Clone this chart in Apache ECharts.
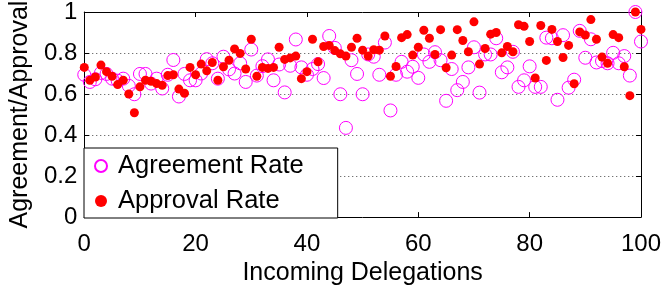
<!DOCTYPE html>
<html>
<head>
<meta charset="utf-8">
<script src="https://cdn.jsdelivr.net/npm/echarts@6/dist/echarts.min.js"></script>
<style>
html,body{margin:0;padding:0;background:#fff;}
#chart{width:664px;height:291px;}
</style>
</head>
<body>
<div id="chart"></div>
<script>
// Incoming delegations (x) 0..100
var delegations = [];
for (var i = 0; i <= 100; i++) delegations.push(i);

var agreementRate = [
0.694,0.659,0.672,0.703,0.698,0.675,0.665,0.675,0.640,0.599,
0.698,0.698,0.651,0.675,0.627,0.694,0.766,0.588,0.698,0.667,
0.667,0.700,0.770,0.750,0.675,0.782,0.720,0.700,0.750,0.659,
0.817,0.690,0.736,0.769,0.667,0.744,0.608,0.738,0.866,0.730,
0.694,0.722,0.746,0.678,0.883,0.825,0.599,0.435,0.765,0.698,
0.599,0.793,0.782,0.694,0.851,0.520,0.694,0.757,0.709,0.733,
0.679,0.793,0.757,0.804,0.765,0.567,0.722,0.619,0.659,0.730,
0.828,0.607,0.793,0.793,0.872,0.706,0.730,0.806,0.635,0.667,
0.735,0.635,0.635,0.875,0.872,0.572,0.887,0.631,0.670,0.908,
0.777,0.867,0.754,0.761,0.750,0.801,0.750,0.785,0.690,1.000,
0.856
];

var approvalRate = [
0.730,0.667,0.683,0.741,0.709,0.687,0.646,0.667,0.600,0.509,
0.635,0.667,0.662,0.651,0.643,0.690,0.694,0.624,0.604,0.730,
0.694,0.746,0.713,0.754,0.667,0.733,0.765,0.820,0.798,0.722,
0.867,0.687,0.730,0.725,0.730,0.828,0.769,0.776,0.785,0.675,
0.709,0.867,0.757,0.832,0.837,0.812,0.796,0.785,0.828,0.872,
0.814,0.785,0.816,0.814,0.883,0.687,0.734,0.875,0.890,0.790,
0.828,0.911,0.872,0.793,0.914,0.728,0.790,0.914,0.861,0.806,
0.952,0.746,0.822,0.892,0.900,0.801,0.832,0.806,0.938,0.930,
0.856,0.678,0.934,0.764,0.915,0.856,0.778,0.837,0.650,0.903,
0.888,0.963,0.867,0.780,0.750,0.890,0.875,0.733,0.592,1.000,
0.915
];

var seriesNames = ['Agreement Rate', 'Approval Rate'];
var xName = 'Incoming Delegations';
var yName = 'Agreement/Approval';

function pairs(xs, ys) { return xs.map(function (x, k) { return [x, ys[k]]; }); }

var FONT = '"Liberation Sans", Arial, Helvetica, sans-serif';
var chart = echarts.init(document.getElementById('chart'), null, {renderer: 'canvas'});

var tickStyle = {show: true, inside: true, length: 5, lineStyle: {color: '#000', width: 1}};
var option = {
  animation: false,
  backgroundColor: '#fff',
  grid: {left: 78, right: 21, top: 11, bottom: 68, containLabel: false},
  xAxis: [{
    type: 'value', min: 0, max: 100, interval: 20, position: 'bottom',
    name: xName, nameLocation: 'middle', nameGap: 40,
    nameTextStyle: {fontFamily: FONT, fontSize: 25, color: '#000'},
    axisLine: {show: true, onZero: false, lineStyle: {color: '#000', width: 1}},
    axisTick: tickStyle,
    axisLabel: {fontFamily: FONT, fontSize: 24, color: '#000', margin: 15},
    splitLine: {show: false}
  }, {
    type: 'value', min: 0, max: 100, interval: 20, position: 'top',
    axisLine: {show: true, onZero: false, lineStyle: {color: '#000', width: 1}},
    axisTick: tickStyle, axisLabel: {show: false}, splitLine: {show: false}
  }],
  yAxis: [{
    type: 'value', min: 0, max: 1, interval: 0.2, position: 'left',
    name: yName, nameLocation: 'middle', nameGap: 50,
    nameTextStyle: {fontFamily: FONT, fontSize: 25, color: '#000'},
    axisLine: {show: true, onZero: false, lineStyle: {color: '#000', width: 1}},
    axisTick: tickStyle,
    axisLabel: {fontFamily: FONT, fontSize: 24, color: '#000', margin: 7},
    splitLine: {show: true, lineStyle: {color: '#444', width: 1, type: [1, 3]}}
  }, {
    type: 'value', min: 0, max: 1, interval: 0.2, position: 'right',
    axisLine: {show: true, onZero: false, lineStyle: {color: '#000', width: 1}},
    axisTick: tickStyle, axisLabel: {show: false}, splitLine: {show: false}
  }],
  legend: {
    orient: 'vertical', left: 84, top: 148,
    padding: [5, 34, 4, 10], itemGap: 9,
    itemWidth: 24, itemHeight: 12,
    backgroundColor: '#fff', borderColor: '#000', borderWidth: 1,
    textStyle: {fontFamily: FONT, fontSize: 25.5, lineHeight: 20, color: '#000', padding: [6, 0, 0, 0]},
    data: seriesNames
  },
  series: [{
    name: seriesNames[0], type: 'scatter', symbol: 'circle', symbolSize: 13,
    itemStyle: {color: 'rgba(255,255,255,0)', borderColor: '#ff00ff', borderWidth: 1, opacity: 1},
    emphasis: {disabled: true},
    data: pairs(delegations, agreementRate), z: 2
  }, {
    name: seriesNames[1], type: 'scatter', symbol: 'circle', symbolSize: 9,
    itemStyle: {color: '#ff0000', borderWidth: 0, opacity: 1},
    emphasis: {disabled: true},
    data: pairs(delegations, approvalRate), z: 3
  }]
};
chart.setOption(option);
</script>
</body>
</html>
